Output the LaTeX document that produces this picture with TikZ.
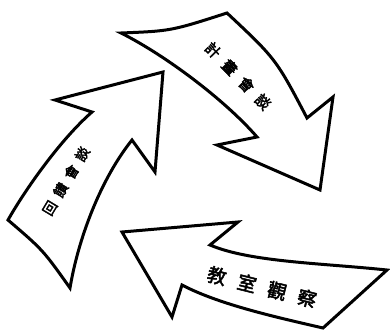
\documentclass[tikz,border=0pt]{standalone}
\usepackage{fontspec}
\newfontfamily\cjk{Noto Sans CJK TC}[FakeBold=2.5]
\usetikzlibrary{positioning}

\tikzset{
  arrowshape/.style={draw=black, fill=white, line width=3pt, line join=miter},
  arrowtext/.style={inner sep=0pt}
}

\begin{document}
\begin{tikzpicture}[x=1pt,y=-1pt]

            %\draw [help lines] (0,0) grid (390,331);
            \useasboundingbox (0,0) rectangle (390,331);

            % planning conference
            \draw[arrowshape] (121,33) .. controls (171,31) .. (227,13)
                  .. controls (276,59) .. (307,118) -- (333,97) -- (320,190) -- (217,145) -- (257,137)
                  .. controls (225,100) and (165,55) .. cycle;

            % feedback conference
            \draw[arrowshape] (8,220) .. controls (25,190) and (60,140) .. (92,112) -- (55,100) -- (163,72)
                  -- (155,172) -- (132,140) .. controls (100,180) and (78,240) .. (70,288)
                  .. controls (43,250) .. cycle;

            % classroom observation
            \draw[arrowshape] (122,232) -- (238,222) -- (210,245) .. controls (250,262) and (320,263) .. (387,270)
                  -- (323,328) .. controls (280,318) and (220,305) .. (182,285) -- (172,317) -- cycle;

            \path   (238,76) node (plan) [arrowtext,rotate=-46,font=\cjk\fontsize{15}{15}\selectfont]
                        {計\hspace{9pt}畫\hspace{9pt}會\hspace{9pt}談}
                    (66,181) node (feedback) [arrowtext,rotate=59,font=\cjk\fontsize{14}{14}\selectfont]
                        {回\hspace{7pt}饋\hspace{7pt}會\hspace{7pt}談}
                    (262,287) node (observe) [arrowtext,rotate=-14,font=\cjk\fontsize{19}{19}\selectfont]
                        {教\hspace{12pt}室\hspace{12pt}觀\hspace{12pt}察};

\end{tikzpicture}
\end{document}
